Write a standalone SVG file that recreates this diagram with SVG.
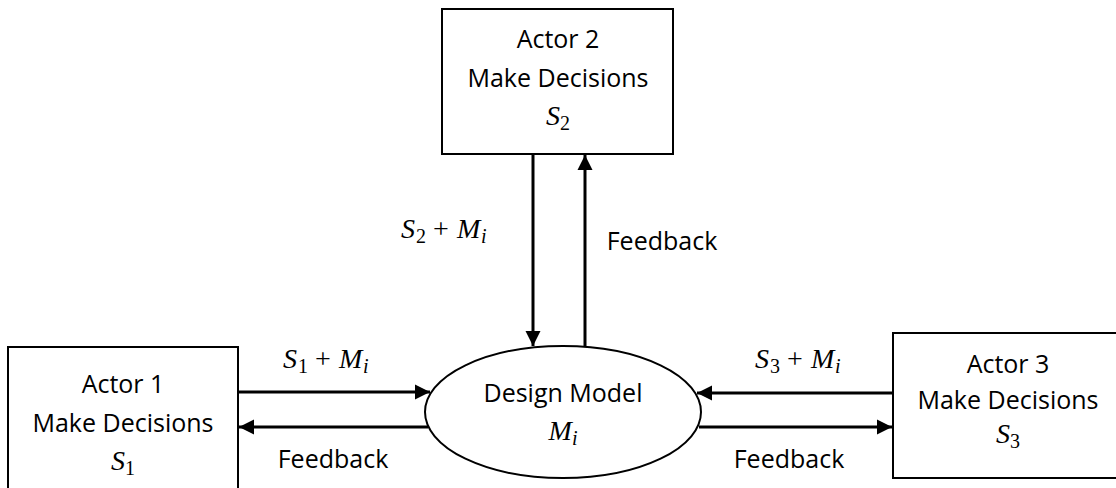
<svg xmlns="http://www.w3.org/2000/svg" width="1116" height="488" viewBox="0 0 1116 488">
<style>
.box{fill:#fff;stroke:#000;stroke-width:2}
.t{font-family:"Open Sans","Noto Sans","Liberation Sans",sans-serif;font-size:25px;fill:#000;text-anchor:middle}
.m{font-family:"Liberation Serif","DejaVu Serif",serif;font-size:28px;fill:#000;font-style:italic}
.sub{font-style:normal;font-size:20px}
.si{font-size:20px}
.pl{font-style:normal}
.c{stroke:#000;stroke-width:3;fill:none}
</style>
<defs>
<marker id="ah" markerUnits="userSpaceOnUse" markerWidth="16" markerHeight="16" refX="15" refY="8" orient="auto">
<path d="M0,0.5 L15,8 L0,15.5 Z" fill="#000"/>
</marker>
</defs>
<g id="connectors">
<line class="c" x1="533" y1="155" x2="533" y2="346" marker-end="url(#ah)"/>
<line class="c" x1="585" y1="347" x2="585" y2="155" marker-end="url(#ah)"/>
<line class="c" x1="238" y1="392" x2="430" y2="392" marker-end="url(#ah)"/>
<line class="c" x1="428" y1="427" x2="239" y2="427" marker-end="url(#ah)"/>
<line class="c" x1="893" y1="393" x2="697" y2="393" marker-end="url(#ah)"/>
<line class="c" x1="699" y1="427" x2="892" y2="427" marker-end="url(#ah)"/>
</g>
<g id="labels">
<text class="m" y="238"><tspan x="401">S</tspan><tspan class="sub" x="416" dy="5">2</tspan><tspan class="pl" x="433" dy="-5">+</tspan><tspan x="457">M</tspan><tspan class="si" x="481" dy="5">i</tspan></text>
<text class="t" x="662" y="250">Feedback</text>
<text class="m" y="368"><tspan x="283">S</tspan><tspan class="sub" x="298" dy="5">1</tspan><tspan class="pl" x="315" dy="-5">+</tspan><tspan x="339">M</tspan><tspan class="si" x="363" dy="5">i</tspan></text>
<text class="t" x="333" y="468">Feedback</text>
<text class="m" y="368"><tspan x="755">S</tspan><tspan class="sub" x="770" dy="5">3</tspan><tspan class="pl" x="787" dy="-5">+</tspan><tspan x="811">M</tspan><tspan class="si" x="835" dy="5">i</tspan></text>
<text class="t" x="789" y="468">Feedback</text>
</g>
<g id="actor2">
<rect class="box" x="442" y="9" width="231" height="145"/>
<text class="t" x="558" y="48">Actor 2</text>
<text class="t" x="558" y="87">Make Decisions</text>
<text class="m" x="558" y="125" text-anchor="middle">S<tspan class="sub" dy="5">2</tspan></text>
</g>
<g id="actor1">
<rect class="box" x="8" y="347" width="230" height="150"/>
<text class="t" x="123" y="393">Actor 1</text>
<text class="t" x="123" y="432">Make Decisions</text>
<text class="m" x="123" y="470" text-anchor="middle">S<tspan class="sub" dy="5">1</tspan></text>
</g>
<g id="actor3">
<rect class="box" x="893" y="333" width="230" height="145"/>
<text class="t" x="1008" y="373">Actor 3</text>
<text class="t" x="1008" y="409">Make Decisions</text>
<text class="m" x="1008" y="443" text-anchor="middle">S<tspan class="sub" dy="5">3</tspan></text>
</g>
<g id="design-model">
<ellipse class="box" cx="563" cy="412" rx="138" ry="66"/>
<text class="t" x="563" y="402">Design Model</text>
<text class="m" x="563" y="440" text-anchor="middle">M<tspan class="si" dy="5">i</tspan></text>
</g>
</svg>
